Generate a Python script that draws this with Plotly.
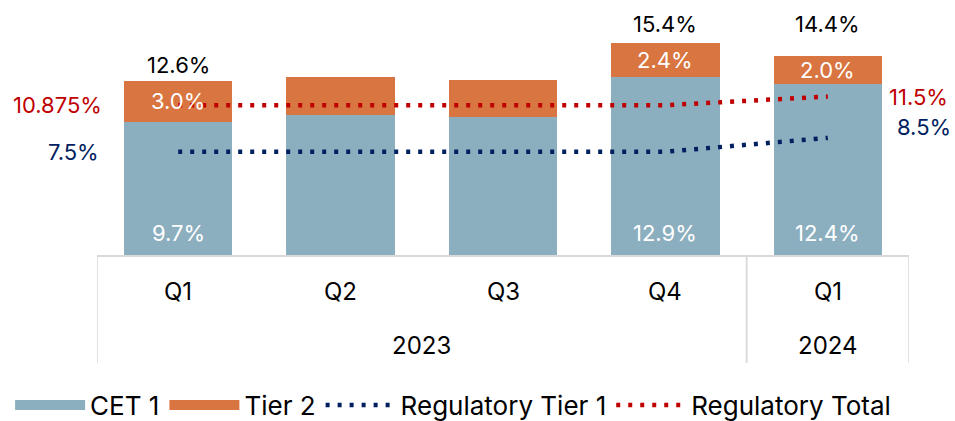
import plotly.graph_objects as go

# ---- data ----
years = ["2023", "2023", "2023", "2023", "2024"]
quarters = ["Q1", "Q2", "Q3", "Q4", "Q1"]
cet1 = [9.66, 10.15, 10.05, 12.94, 12.42]
tier2 = [2.97, 2.75, 2.65, 2.43, 2.01]
reg_tier1 = [7.5, 7.5, 7.5, 7.5, 8.5]
reg_total = [10.875, 10.875, 10.875, 10.875, 11.5]
show_labels = [True, False, False, True, True]

# ---- style ----
C_CET = "#8CAFBF"
C_T2 = "#D87541"
C_BLUE = "#002060"
C_RED = "#C00000"
GRID = "#D9D9D9"
FONT = "Inter, Arial, sans-serif"
DOT = "4px,8px"

keys = [f"{y} {q}" for y, q in zip(years, quarters)]
totals = [a + b for a, b in zip(cet1, tier2)]

fig = go.Figure()
fig.add_trace(go.Bar(x=keys, y=cet1, name="CET 1", marker=dict(color=C_CET, line=dict(width=0)),
                     showlegend=False, hoverinfo="skip"))
fig.add_trace(go.Bar(x=keys, y=tier2, name="Tier 2", marker=dict(color=C_T2, line=dict(width=0)),
                     showlegend=False, hoverinfo="skip"))
fig.add_trace(go.Scatter(x=keys, y=reg_tier1, name="Regulatory Tier 1", mode="lines",
                         line=dict(color=C_BLUE, width=4.5, dash=DOT), showlegend=False))
fig.add_trace(go.Scatter(x=keys, y=reg_total, name="Regulatory Total", mode="lines",
                         line=dict(color=C_RED, width=4.5, dash=DOT), showlegend=False))

# legend entries
for name, col, dash in [("CET 1", C_CET, "solid"), ("Tier 2", C_T2, "solid"),
                        ("Regulatory Tier 1", C_BLUE, DOT), ("Regulatory Total", C_RED, DOT)]:
    w = 16 if dash == "solid" else 4.5
    fig.add_trace(go.Scatter(x=[None], y=[None], mode="lines", name=name,
                             line=dict(color=col, width=w, dash=dash)))

ann = []
total_shift = [16, 0, 0, 19, 32]
for i, k in enumerate(keys):
    if not show_labels[i]:
        continue
    ann.append(dict(x=k, y=0, yanchor="bottom", yshift=7, showarrow=False,
                    text=f"{cet1[i]:.1f}%", font=dict(color="white", size=22, family=FONT)))
    ann.append(dict(x=k, y=cet1[i] + tier2[i] / 2, yanchor="middle", showarrow=False,
                    text=f"{tier2[i]:.1f}%", font=dict(color="white", size=22, family=FONT)))
    ann.append(dict(x=k, y=totals[i], yanchor="middle", yshift=total_shift[i], showarrow=False,
                    text=f"{totals[i]:.1f}%", font=dict(color="black", size=22, family=FONT)))

# regulatory value labels
ann.append(dict(x=keys[0], y=reg_total[0], xanchor="right", xshift=-74, showarrow=False,
                text=f"{reg_total[0]:g}%", font=dict(color=C_RED, size=22, family=FONT)))
ann.append(dict(x=keys[0], y=reg_tier1[0], xanchor="right", xshift=-77, showarrow=False,
                text=f"{reg_tier1[0]:g}%", font=dict(color=C_BLUE, size=22, family=FONT)))
ann.append(dict(x=keys[-1], y=reg_total[-1], xanchor="right", xshift=122, showarrow=False,
                text=f"{reg_total[-1]:g}%", font=dict(color=C_RED, size=22, family=FONT)))
ann.append(dict(x=keys[-1], y=reg_tier1[-1], xanchor="right", xshift=125, yshift=11, showarrow=False,
                text=f"{reg_tier1[-1]:g}%", font=dict(color=C_BLUE, size=22, family=FONT)))

# category axis labels
for i, q in enumerate(quarters):
    ann.append(dict(x=i, y=-0.149, xref="x", yref="paper", yanchor="middle", showarrow=False,
                    text=q, font=dict(color="black", size=24, family=FONT)))
shapes = []
groups = []
for i, y in enumerate(years):
    if not groups or groups[-1][0] != y:
        groups.append([y, i, i])
    else:
        groups[-1][2] = i
for y, a, b in groups:
    ann.append(dict(x=(a + b) / 2, y=-0.363, xref="x", yref="paper", yanchor="middle", showarrow=False,
                    text=y, font=dict(color="black", size=24, family=FONT)))
    for xb in (a - 0.5, b + 0.5):
        shapes.append(dict(type="line", xref="x", yref="paper", x0=xb, x1=xb, y0=0, y1=-0.435,
                           line=dict(color=GRID, width=1.5)))

fig.update_layout(
    width=955, height=421,
    margin=dict(l=97, r=46, t=7, b=166, autoexpand=False),
    barmode="stack", bargap=0.333,
    plot_bgcolor="white", paper_bgcolor="white",
    font=dict(family=FONT, size=24, color="black"),
    xaxis=dict(type="category", range=[-0.5, 4.5], showticklabels=False, ticks="",
               showline=True, linecolor=GRID, linewidth=1.5, showgrid=False, zeroline=False),
    yaxis=dict(range=[0, 18], visible=False),
    annotations=ann, shapes=shapes,
    legend=dict(orientation="h", traceorder="normal", x=-0.107, xanchor="left", y=-0.605,
                yanchor="middle", font=dict(size=26, family=FONT), itemwidth=70,
                bgcolor="rgba(0,0,0,0)"),
    showlegend=True,
)

fig.write_html("out.html", config={"displayModeBar": False},
               post_script="document.body.style.margin='0';")
